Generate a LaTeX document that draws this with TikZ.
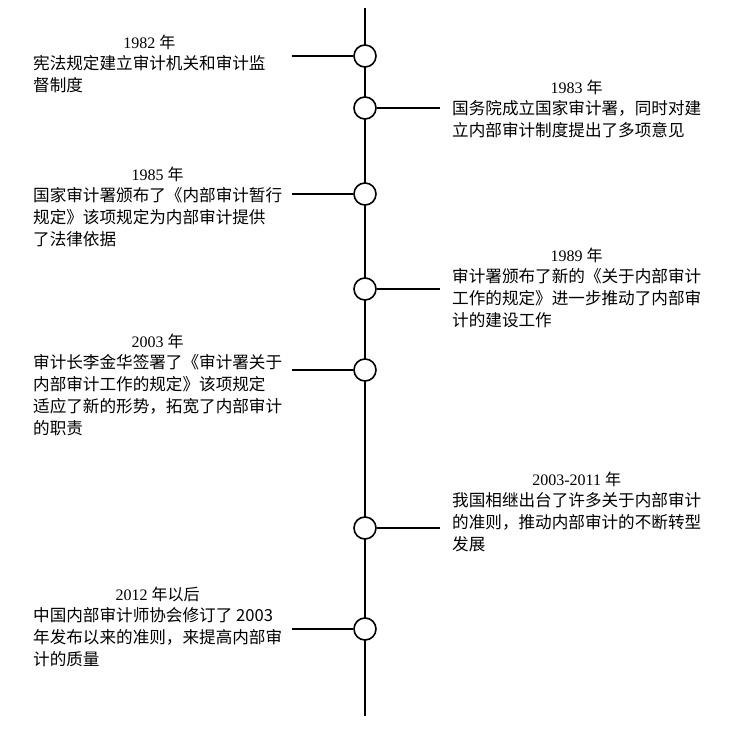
\documentclass[tikz,border=0pt]{standalone}
\usepackage{fontspec}
\setmainfont{Liberation Serif}
\newfontfamily\cjk{Noto Sans CJK SC}
\usetikzlibrary{positioning}
\tikzset{
  event/.style={draw=black, line width=1.6pt, fill=white, circle, minimum size=22pt, inner sep=0pt},
  desc/.style={anchor=north west, align=left, inner sep=0pt, font=\cjk\fontsize{16.6}{22.2}\selectfont},
  yr/.style={inner sep=0pt, font=\fontsize{16}{18}\selectfont},
  branch/.style={line width=1.2pt}
}
\begin{document}
\begin{tikzpicture}[x=1pt, y=-1pt]
    \useasboundingbox (0,0) rectangle (740,732);
    \coordinate (top) at (365,8);
    \coordinate (bottom) at (365,716);
    \draw [line width=2.2pt] (top) -- (bottom);
    % events on the axis
    \node (e1982) [event] at (365,56) {};
    \node (e1983) [event] at (365,108) {};
    \node (e1985) [event] at (365,194) {};
    \node (e1989) [event] at (365,289) {};
    \node (e2003) [event] at (365,370) {};
    \node (e2011) [event] at (365,528) {};
    \node (e2012) [event] at (365,629) {};
    % branch ends
    \coordinate (b1982) at (292,56);
    \coordinate (b1983) at (440,108);
    \coordinate (b1985) at (292,194);
    \coordinate (b1989) at (440,289);
    \coordinate (b2003) at (292,370);
    \coordinate (b2011) at (440,528);
    \coordinate (b2012) at (292,629);
    \draw [branch] (b1982) -- (e1982);
    \draw [branch] (e1983) -- (b1983);
    \draw [branch] (b1985) -- (e1985);
    \draw [branch] (e1989) -- (b1989);
    \draw [branch] (b2003) -- (e2003);
    \draw [branch] (e2011) -- (b2011);
    \draw [branch] (b2012) -- (e2012);
    % texts
    \node (t1982) [desc] at (33,55) {宪法规定建立审计机关和审计监\\督制度};
    \node (y1982) [yr, above=5pt of t1982] {1982 {\cjk 年}};
    \node (t1983) [desc] at (452,100) {国务院成立国家审计署，同时对建\\立内部审计制度提出了多项意见};
    \node (y1983) [yr, above=5pt of t1983] {1983 {\cjk 年}};
    \node (t1985) [desc] at (33,187) {国家审计署颁布了《内部审计暂行\\规定》该项规定为内部审计提供\\了法律依据};
    \node (y1985) [yr, above=5pt of t1985] {1985 {\cjk 年}};
    \node (t1989) [desc] at (452,268) {审计署颁布了新的《关于内部审计\\工作的规定》进一步推动了内部审\\计的建设工作};
    \node (y1989) [yr, above=5pt of t1989] {1989 {\cjk 年}};
    \node (t2003) [desc] at (33,354) {审计长李金华签署了《审计署关于\\内部审计工作的规定》该项规定\\适应了新的形势，拓宽了内部审计\\的职责};
    \node (y2003) [yr, above=5pt of t2003] {2003 {\cjk 年}};
    \node (t2011) [desc] at (452,492) {我国相继出台了许多关于内部审计\\的准则，推动内部审计的不断转型\\发展};
    \node (y2011) [yr, above=5pt of t2011] {2003-2011 {\cjk 年}};
    \node (t2012) [desc] at (33,607) {中国内部审计师协会修订了 2003\\年发布以来的准则，来提高内部审\\计的质量};
    \node (y2012) [yr, above=5pt of t2012] {2012 {\cjk 年以后}};
\end{tikzpicture}
\end{document}
